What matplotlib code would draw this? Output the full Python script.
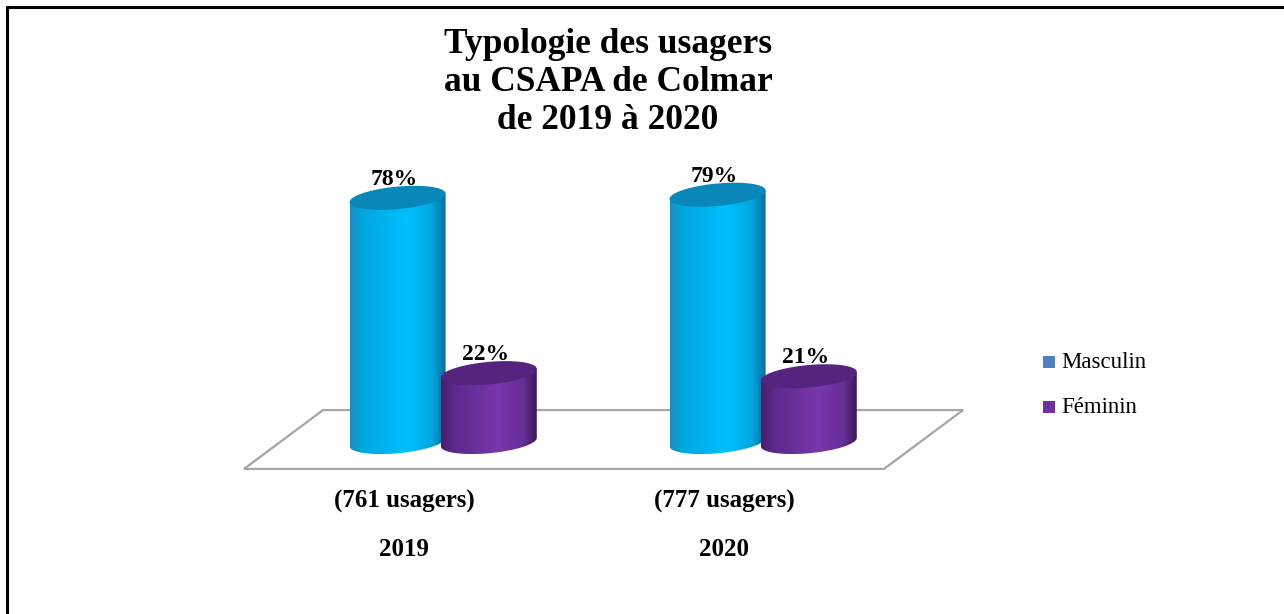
import numpy as np
import matplotlib
matplotlib.use("Agg")
import matplotlib.pyplot as plt
from matplotlib.patches import Polygon, Rectangle
from matplotlib.colors import LinearSegmentedColormap
from matplotlib.lines import Line2D

# ---------------- data ----------------
title_lines = ["Typologie des usagers", "au CSAPA de Colmar", "de 2019 à 2020"]
years = ["2019", "2020"]
counts = ["(761 usagers)", "(777 usagers)"]
series_names = ["Masculin", "Féminin"]
masculin = [78, 79]
feminin = [22, 21]

# ---------------- style ----------------
SERIF = "Liberation Serif"
W, H = 1284, 614
cyan_cmap = LinearSegmentedColormap.from_list(
    "cyl_cyan", [(0.0, "#1E8CBC"), (0.12, "#00A6DE"), (0.6, "#00BFFF"),
                 (0.85, "#00A8E0"), (1.0, "#006E9C")])
purple_cmap = LinearSegmentedColormap.from_list(
    "cyl_purple", [(0.0, "#48206C"), (0.15, "#5E2A8C"), (0.6, "#7836AC"),
                   (0.85, "#692F99"), (1.0, "#3E1A5E")])
top_colors = ["#0887B8", "#56247F"]
legend_colors = ["#4F81BD", "#7030A0"]

fig = plt.figure(figsize=(W / 100, H / 100), dpi=100)
ax = fig.add_axes([0, 0, 1, 1])
ax.set_axis_off()

x0_px, px_x = 404.0, 320.0      # category 0 at 404 px, 320 px per category
base_px, px_pct = 442.0, 3.13   # 0 % at 442 px from top, 3.13 px per %


def fx(px):
    return px / W


def fy(py):
    return 1 - py / H


# floor (parallelogram)
front_y, back_y = -8.6, 10.2
dx = 0.247
floor = Polygon([(-0.5, front_y), (1.5, front_y), (1.5 + dx, back_y), (-0.5 + dx, back_y)],
                closed=True, facecolor="white", edgecolor="#A6A6A6", linewidth=1.6, zorder=1)
ax.add_patch(floor)

bar_w = 0.30
eh = 3.6      # half-height of ellipses in % units
shear = 9.0   # slight tilt of the ellipses (right side higher)
offsets = [-0.02, 0.265]


def cylinder(xc, h, cmap, topcolor, z):
    hw = bar_w / 2
    t = np.linspace(np.pi, 2 * np.pi, 90)
    bx = xc + hw * np.cos(t)
    by = eh * np.sin(t) + shear * (bx - xc)
    verts = ([(xc - hw, h - shear * hw)] + list(zip(bx, by)) + [(xc + hw, h + shear * hw)])
    clip = Polygon(verts, closed=True, facecolor="none", edgecolor="none",
                   transform=ax.transData)
    ax.add_patch(clip)
    grad = np.linspace(0, 1, 256).reshape(1, -1)
    im = ax.imshow(grad, cmap=cmap,
                   extent=[xc - hw, xc + hw, -eh - shear * hw - 0.5, h + shear * hw + 0.5],
                   aspect="auto", origin="lower", interpolation="bilinear", zorder=z)
    im.set_clip_path(clip)
    tt = np.linspace(0, 2 * np.pi, 160)
    tx = xc + hw * np.cos(tt)
    ty = h + eh * np.sin(tt) + shear * (tx - xc)
    ax.add_patch(Polygon(list(zip(tx, ty)), closed=True, facecolor=topcolor,
                         edgecolor="none", zorder=z + 0.1))


for i in range(len(years)):
    for s, (vals, cmap) in enumerate([(masculin, cyan_cmap), (feminin, purple_cmap)]):
        xc = i + offsets[s]
        v = vals[i]
        cylinder(xc, v, cmap, top_colors[s], 2 + i * 2 + s)
        ax.text(xc - 0.01, v + eh + 0.6, f"{v}%", ha="center", va="baseline",
                fontsize=17, fontweight="bold", family=SERIF, zorder=10)
    ax.text(i, -21.1, counts[i], ha="center", va="baseline",
            fontsize=18, fontweight="bold", family=SERIF)
    ax.text(i, -36.4, years[i], ha="center", va="baseline",
            fontsize=18, fontweight="bold", family=SERIF)

ax.set_xlim(-x0_px / px_x, (W - x0_px) / px_x)
ax.set_ylim((base_px - H) / px_pct, base_px / px_pct)

# title
for line, by in zip(title_lines, [53, 91, 129]):
    fig.text(fx(608), fy(by), line, ha="center", va="baseline",
             fontsize=25.5, fontweight="bold", family=SERIF)

# legend
for name, col, by in zip(series_names, legend_colors, [368, 413]):
    fig.add_artist(Rectangle((fx(1043), fy(by)), 12 / W, 12 / H,
                             transform=fig.transFigure, facecolor=col, edgecolor="none"))
    fig.text(fx(1061), fy(by), name, ha="left", va="baseline",
             fontsize=16.5, family=SERIF)

# frame (left and top edges)
fig.add_artist(Line2D([fx(7), fx(7), fx(W)], [fy(H), fy(7), fy(7)],
                      transform=fig.transFigure, color="black", linewidth=2.2))

fig.savefig("out.png", dpi=100)
